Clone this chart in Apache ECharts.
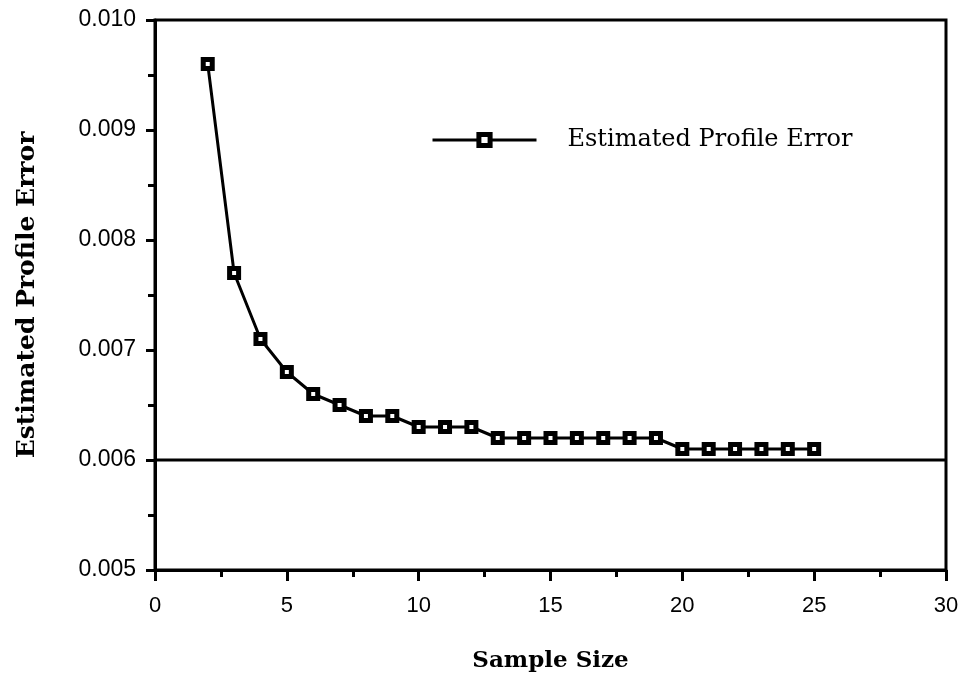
<!DOCTYPE html>
<html><head><meta charset="utf-8">
<script src="https://cdn.jsdelivr.net/npm/echarts@6/dist/echarts.min.js"></script>
<style>html,body{margin:0;padding:0;background:#fff}#c{width:971px;height:686px}</style>
</head><body><div id="c"></div>
<script>
const sampleSize = [2,3,4,5,6,7,8,9,10,11,12,13,14,15,16,17,18,19,20,21,22,23,24,25];
const profileError = [0.0096,0.0077,0.0071,0.0068,0.0066,0.0065,0.0064,0.0064,0.0063,0.0063,0.0063,0.0062,0.0062,0.0062,0.0062,0.0062,0.0062,0.0062,0.0061,0.0061,0.0061,0.0061,0.0061,0.0061];
const referenceX = [0, 30];
const referenceLevel = [0.006, 0.006];
const seriesName = 'Estimated Profile Error';
const xTitle = 'Sample Size';
const yTitle = 'Estimated Profile Error';

const chart = echarts.init(document.getElementById('c'));
chart.setOption({
  animation: false,
  backgroundColor: '#fff',
  grid: {left:155, right:25, top:20, bottom:116, show:true, borderColor:'#000', borderWidth:3, backgroundColor:'transparent'},
  legend: {
    data:[seriesName], left:426, top:123, itemWidth:104, itemHeight:14, itemGap:10,
    lineStyle:{width:3, color:'#000'},
    itemStyle:{color:'#fff', borderColor:'#000', borderWidth:5},
    textStyle:{fontFamily:'"DejaVu Serif","Liberation Serif",serif', fontSize:24, color:'#000', padding:[0,0,0,26]}
  },
  xAxis: {
    type:'value', min:0, max:30, interval:5,
    name:xTitle, nameLocation:'middle', nameGap:80,
    nameTextStyle:{fontFamily:'"DejaVu Serif","Liberation Serif",serif', fontWeight:'bold', fontSize:23, color:'#000'},
    axisLine:{show:true, lineStyle:{color:'#000', width:3}},
    axisTick:{show:true, length:11, lineStyle:{color:'#000', width:3}},
    minorTick:{show:true, splitNumber:2, length:7, lineStyle:{color:'#000', width:3}},
    axisLabel:{fontFamily:'"Liberation Sans",Arial,sans-serif', fontSize:22, color:'#000', margin:25},
    splitLine:{show:false}
  },
  yAxis: {
    type:'value', min:0.005, max:0.010, interval:0.001,
    name:yTitle, nameLocation:'middle', nameGap:115,
    nameTextStyle:{fontFamily:'"DejaVu Serif","Liberation Serif",serif', fontWeight:'bold', fontSize:25, color:'#000'},
    axisLine:{show:true, lineStyle:{color:'#000', width:3}},
    axisTick:{show:true, length:9, lineStyle:{color:'#000', width:3}},
    minorTick:{show:true, splitNumber:2, length:7, lineStyle:{color:'#000', width:3}},
    axisLabel:{fontFamily:'"Liberation Sans",Arial,sans-serif', fontSize:23, color:'#000', margin:19, formatter:v=>v.toFixed(3)},
    splitLine:{show:false}
  },
  series: [{
    name:'reference', type:'line',
    data: referenceX.map((x,i)=>[x, referenceLevel[i]]),
    symbol:'none', lineStyle:{color:'#000', width:3}, z:2
  },{
    name:seriesName, type:'line',
    data: sampleSize.map((x,i)=>[x, profileError[i]]),
    symbol:'rect', symbolSize:9, showAllSymbol:true,
    lineStyle:{color:'#000', width:3},
    itemStyle:{color:'#fff', borderColor:'#000', borderWidth:5},
    z:3
  }]
});
</script></body></html>
